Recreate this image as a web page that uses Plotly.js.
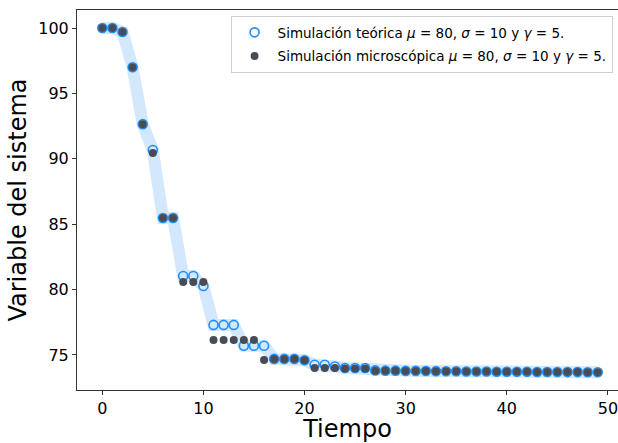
<!DOCTYPE html>
<html>
<head>
<meta charset="utf-8">
<script src="https://cdn.plot.ly/plotly-3.0.1.min.js"></script>
<style>html,body{margin:0;padding:0;background:#fff;}#chart{width:618px;height:443px;}</style>
</head>
<body>
<div id="chart"></div>
<script>
const tiempo = [0,1,2,3,4,5,6,7,8,9,10,11,12,13,14,15,16,17,18,19,20,21,22,23,24,25,26,27,28,29,30,31,32,33,34,35,36,37,38,39,40,41,42,43,44,45,46,47,48,49];
const teorica = [100,100,99.7,97.0,92.65,90.67,85.47,85.47,81.04,81.04,80.27,77.3,77.3,77.3,75.7,75.7,75.7,74.7,74.7,74.7,74.6,74.25,74.25,74.12,74.0,74.0,74.0,73.82,73.8,73.8,73.78,73.78,73.77,73.76,73.75,73.75,73.74,73.74,73.73,73.72,73.72,73.71,73.71,73.7,73.7,73.7,73.69,73.69,73.68,73.68];
const microscopica = [100,100,99.7,97.0,92.65,90.45,85.47,85.47,80.58,80.58,80.58,76.15,76.15,76.15,76.15,76.15,74.62,74.7,74.7,74.7,74.6,74.0,74.0,74.0,73.97,73.97,73.97,73.8,73.8,73.8,73.78,73.78,73.77,73.76,73.75,73.75,73.74,73.74,73.73,73.72,73.72,73.71,73.71,73.7,73.7,73.7,73.69,73.69,73.68,73.68];
const yTicks = [75,80,85,90,95,100];
const xTicks = [0,10,20,30,40,50];

const traces = [
  {x: tiempo, y: teorica, mode: 'lines', line: {color: '#d3e8fc', width: 12}, showlegend: false, hoverinfo: 'skip'},
  {x: tiempo, y: teorica, mode: 'markers', name: 'Simulación teórica <i>μ</i> = 80, <i>σ</i> = 10 y <i>γ</i> = 5.',
   legendgroup: 'a',
   marker: {symbol: 'circle-open', size: 9, color: '#1e8fff', line: {width: 1.6, color: '#1e8fff'}}},
  {x: tiempo, y: microscopica, mode: 'markers', name: 'Simulación microscópica <i>μ</i> = 80, <i>σ</i> = 10 y <i>γ</i> = 5.',
   legendgroup: 'b',
   marker: {symbol: 'circle', size: 8, color: '#474c55'}}
];

const axisCommon = {
  showgrid: false, zeroline: false, showline: true, mirror: true, linecolor: '#333', linewidth: 1,
  ticks: 'outside', ticklen: 4, tickwidth: 1, tickcolor: '#333', ticklabeloverflow: 'allow',
  tickfont: {family: 'DejaVu Sans', size: 16, color: '#000'}
};

const layout = {
  width: 618, height: 443,
  margin: {l: 77, r: 0, t: 10, b: 53},
  paper_bgcolor: '#fff', plot_bgcolor: '#fff',
  xaxis: Object.assign({}, axisCommon, {range: [-2.5, 51.0], tickvals: xTicks,
    title: {text: 'Tiempo', font: {family: 'DejaVu Sans', size: 24, color: '#000'}, standoff: 0}}),
  yaxis: Object.assign({}, axisCommon, {range: [72.32, 101.38], tickvals: yTicks,
    title: {text: 'Variable del sistema', font: {family: 'DejaVu Sans', size: 24, color: '#000'}, standoff: 4}}),
  legend: {x: 0.99, y: 0.984, xanchor: 'right', yanchor: 'top', bgcolor: '#fff', bordercolor: '#d0d0d0', borderwidth: 1,
    font: {family: 'DejaVu Sans', size: 13.5, color: '#000'}, traceorder: 'grouped', tracegroupgap: 3, itemwidth: 36},
  showlegend: true
};

Plotly.newPlot('chart', traces, layout, {staticPlot: true, displayModeBar: false});
</script>
</body>
</html>
